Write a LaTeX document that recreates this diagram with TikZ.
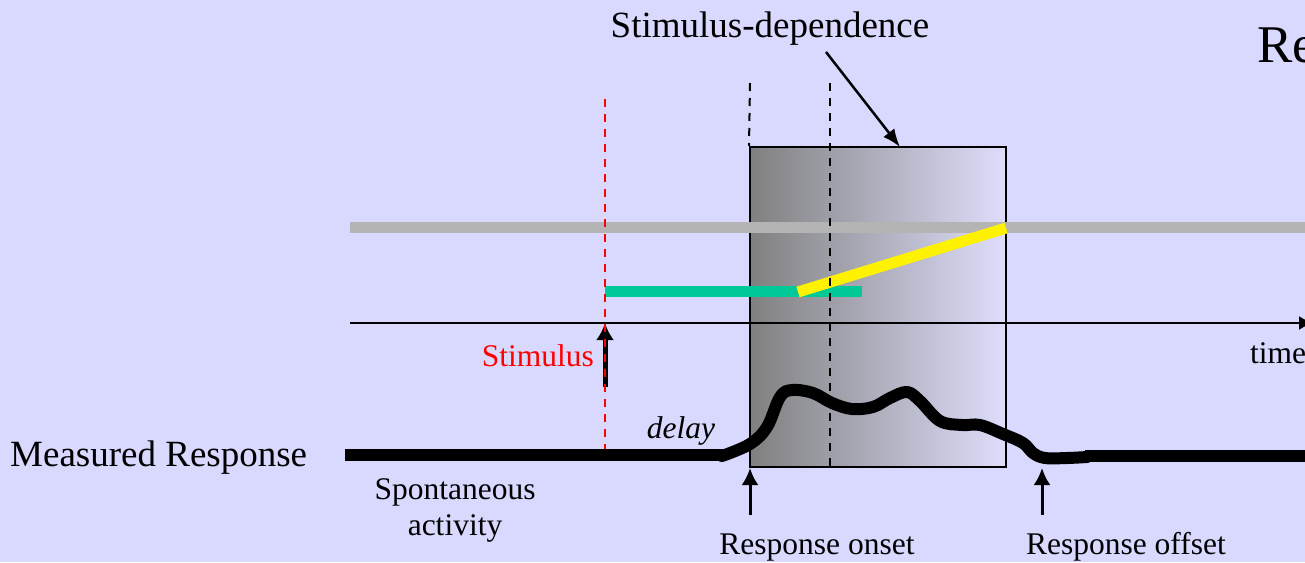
\documentclass[tikz,border=0pt]{standalone}
\usepackage{fontspec}
\setmainfont{Liberation Serif}
\usetikzlibrary{arrows.meta,positioning,calc}
\definecolor{slidebg}{RGB}{217,217,255}
\definecolor{bargray}{RGB}{180,180,180}
\definecolor{stimgreen}{RGB}{0,200,150}
\definecolor{boxdark}{RGB}{128,128,128}
\definecolor{boxmid}{RGB}{200,200,222}
\definecolor{boxlight}{RGB}{222,222,252}
\tikzset{
  lbl/.style={font=\fontsize{31.5}{36}\selectfont, inner sep=0pt, align=center},
  biglbl/.style={font=\fontsize{37}{44}\selectfont, inner sep=0pt},
  resp/.style={line width=12pt, black},
  band/.style={line width=11pt},
  uparr/.style={-{Latex[length=17pt,width=17pt]}, line width=3pt},
  vdash/.style={dash pattern=on 8pt off 7pt, line width=2pt},
}

\begin{document}
\begin{tikzpicture}[x=1pt,y=-1pt]
        \fill[slidebg] (0,0) rectangle (1305,562);
        \useasboundingbox (0,0) rectangle (1305,562);
        % stimulus-dependence window
        \node[draw, line width=2pt, inner sep=0pt, minimum width=256pt, minimum height=320pt,
              left color=boxdark, middle color=boxmid, right color=boxlight](sdbox) at (878,307){};
        \node[biglbl, anchor=base](sdlbl) at (770,37){Stimulus-dependence};
        \node[font=\fontsize{53}{60}\selectfont, inner sep=0pt, anchor=base west](retitle) at (1257,62){Re};
        \coordinate (sdtail) at (826,52);
        \coordinate (sdtip) at (900,147);
        \draw[-{Latex[length=18pt,width=14pt]}, line width=2.5pt](sdtail)--(sdtip);
        % bands
        \coordinate (g0) at (350,227.5); \coordinate (g1) at (1310,227.5);
        \coordinate (s0) at (605,291); \coordinate (s1) at (862,291);
        \coordinate (y0) at (798,292); \coordinate (y1) at (1006,228);
        \draw[band, bargray](g0)--(g1);
        \draw[band, stimgreen](s0)--(s1);
        \draw[band, yellow](y0)--(y1);
        % dashed markers
        \coordinate (d0) at (750,83); \coordinate (d1) at (830,83); \coordinate (d2) at (830,467);
        \draw[vdash](d0)--(sdbox.north west);
        \draw[vdash](d1)--(d2);
        % time axis
        \coordinate (t0) at (350,323); \coordinate (t1) at (1314,323);
        \draw[-{Latex[length=15pt,width=14pt]}, line width=2.5pt](t0)--(t1);
        \node[lbl, anchor=base west](timelbl) at (1250,363){time};
        % stimulus
        \coordinate (st0) at (605,387); \coordinate (st1) at (605,323);
        \draw[-{Latex[length=17pt,width=18pt]}, line width=5pt](st0)--(st1);
        \coordinate (r0) at (605,99); \coordinate (r1) at (605,455);
        \draw[vdash, red](r0)--(r1);
        \node[lbl, red, anchor=base east](stimlbl) at (594,366){Stimulus};
        % measured response
        \coordinate (m0) at (345,455); \coordinate (m1) at (724,455);
        \coordinate (m2) at (1085,456); \coordinate (m3) at (1310,456);
        \draw[resp](m0)--(m1);
        \draw[resp, line cap=round, line join=round] plot[smooth, tension=0.6] coordinates {
          (722,456) (750,444) (767,427) (780,397) (792,390) (813,393) (832,403) (852,409)
          (873,407) (890,398) (907,392) (920,401) (940,421) (962,425) (980,425) (1003,434)
          (1023,443) (1033,453) (1045,458) (1067,458) (1087,457)};
        \draw[resp](m2)--(m3);
        \node[biglbl, anchor=base west](mrlbl) at (10,466){Measured Response};
        \node[lbl, anchor=base](delaylbl) at (681,438){\itshape delay};
        \node[lbl](spontlbl) at (455,510){Spontaneous\\activity};
        % onset / offset
        \node[lbl, anchor=base](onlbl) at (817,554){Response onset};
        \node[lbl, anchor=base](offlbl) at (1126,554){Response offset};
        \coordinate (on0) at (750,515); \coordinate (on1) at (750,468);
        \coordinate (off0) at (1042,515); \coordinate (off1) at (1042,468);
        \draw[uparr](on0)--(on1);
        \draw[uparr](off0)--(off1);
    \end{tikzpicture}
\end{document}
